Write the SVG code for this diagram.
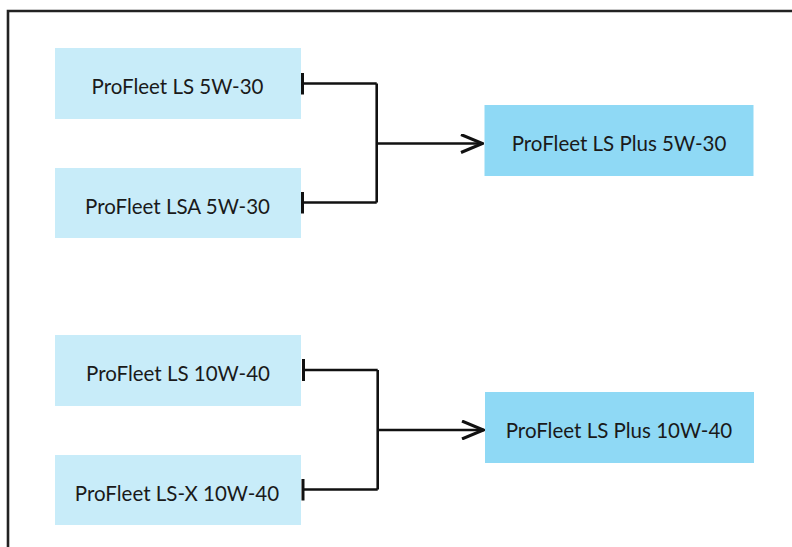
<svg xmlns="http://www.w3.org/2000/svg" width="792" height="547" viewBox="0 0 792 547">
<style>
.src{fill:#c8ecf9}
.dst{fill:#8fd9f5}
text{font-family:"Lato","Liberation Sans",sans-serif;font-size:20.5px;fill:#1a1a1a;text-anchor:middle}
.c{fill:none;stroke:#111;stroke-width:2.6;stroke-linejoin:round}
</style>
<defs>
<marker id="arr" viewBox="0 0 24 20" refX="23" refY="10" markerWidth="24" markerHeight="20" markerUnits="userSpaceOnUse" orient="auto">
<path d="M1,1 L22.5,10 L1,19" fill="none" stroke="#111" stroke-width="3"/>
</marker>
<marker id="tee" viewBox="0 0 4 22" refX="2" refY="11" markerWidth="4" markerHeight="22" markerUnits="userSpaceOnUse" orient="auto">
<path d="M2,0 L2,22" stroke="#111" stroke-width="3"/>
</marker>
</defs>
<rect x="0" y="0" width="792" height="547" fill="#fff"/>
<path d="M8,560 L8,11 L800,11" fill="none" stroke="#222" stroke-width="2.6"/>
<g id="n1"><rect class="src" x="55" y="48" width="246" height="71"/><text x="177.5" y="94">ProFleet LS 5W-30</text></g>
<g id="n2"><rect class="src" x="55" y="168" width="246" height="70"/><text x="177.5" y="213.5">ProFleet LSA 5W-30</text></g>
<g id="n3"><rect class="dst" x="484.5" y="105" width="269" height="71"/><text x="619" y="151">ProFleet LS Plus 5W-30</text></g>
<g id="n4"><rect class="src" x="55" y="335" width="246" height="71"/><text x="178" y="381">ProFleet LS 10W-40</text></g>
<g id="n5"><rect class="src" x="55" y="455" width="246" height="70"/><text x="177" y="500.5">ProFleet LS-X 10W-40</text></g>
<g id="n6"><rect class="dst" x="485" y="392" width="269" height="71"/><text x="619" y="438">ProFleet LS Plus 10W-40</text></g>
<g id="connectors">
<path class="c" d="M376.7,83.5 L302.5,83.5" marker-end="url(#tee)"/>
<path class="c" d="M376.7,202.5 L302.5,202.5" marker-end="url(#tee)"/>
<path class="c" d="M376.7,83.5 L376.7,202.5"/>
<path class="c" d="M376.7,143.5 L483,143.5" marker-end="url(#arr)"/>
<path class="c" d="M377.7,370 L303.5,370" marker-end="url(#tee)"/>
<path class="c" d="M377.7,489.5 L303,489.5" marker-end="url(#tee)"/>
<path class="c" d="M377.7,370 L377.7,489.5"/>
<path class="c" d="M377.7,430 L484,430" marker-end="url(#arr)"/>
</g>
</svg>
